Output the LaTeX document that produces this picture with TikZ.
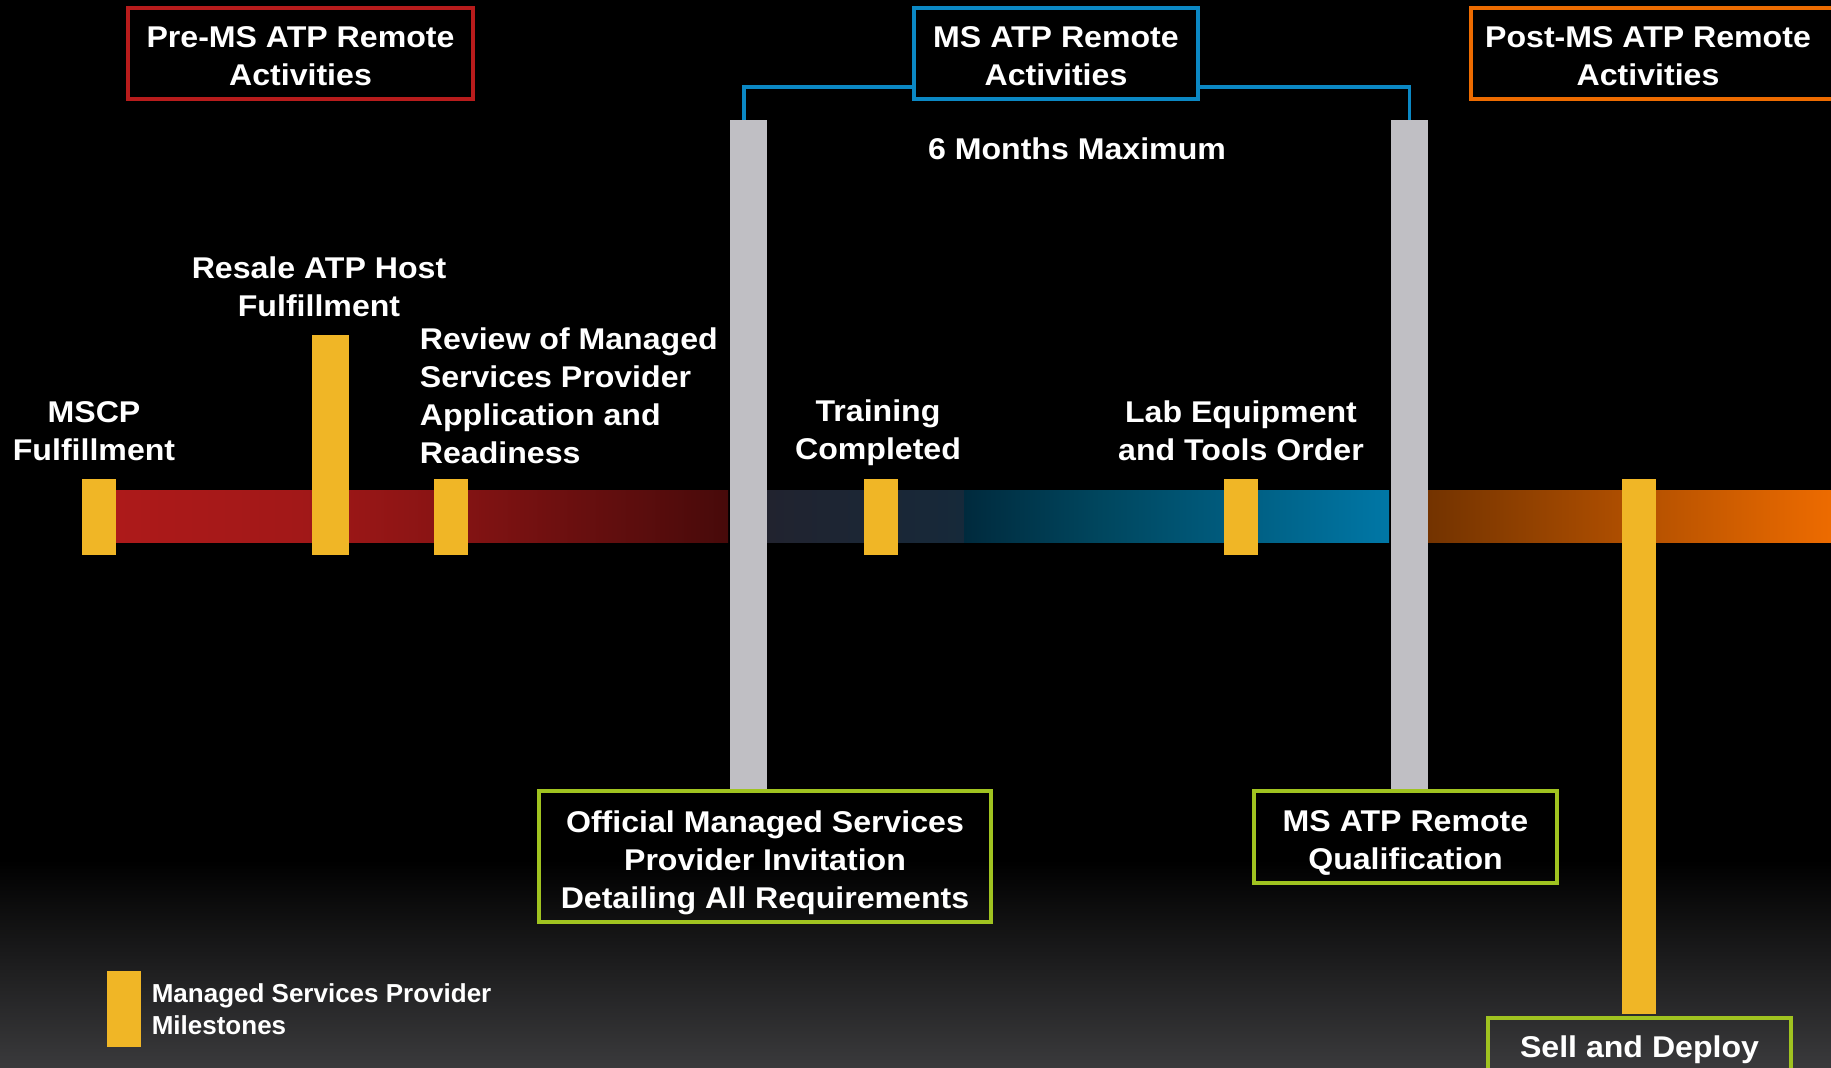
\documentclass[tikz,border=0pt]{standalone}
\usepackage{fontspec}
\setmainfont{Liberation Sans}[FakeStretch=1.07]
\newfontfamily\legendfont{Liberation Sans}
\usetikzlibrary{positioning}

\definecolor{msyellow}{RGB}{240,182,38}
\definecolor{gategray}{RGB}{192,191,196}
\definecolor{prered}{RGB}{184,28,28}
\definecolor{msblue}{RGB}{11,136,196}
\definecolor{postorange}{RGB}{237,107,0}
\definecolor{okgreen}{RGB}{160,195,32}
\definecolor{bgbottom}{RGB}{58,58,60}
% band colours
\definecolor{redA}{RGB}{174,26,26}
\definecolor{redB}{RGB}{162,24,24}
\definecolor{redC}{RGB}{138,20,20}
\definecolor{redD}{RGB}{71,10,10}
\definecolor{blueA}{RGB}{33,35,47}
\definecolor{blueB}{RGB}{22,41,58}
\definecolor{blueC}{RGB}{0,42,61}
\definecolor{blueD}{RGB}{0,70,94}
\definecolor{blueE}{RGB}{0,119,166}
\definecolor{orangeA}{RGB}{115,51,0}
\definecolor{orangeB}{RGB}{237,107,0}

\tikzset{
  slidetext/.style={text=white, inner sep=0pt, font=\bfseries\fontsize{15pt}{19pt}\selectfont},
  mstext/.style={slidetext, align=center, yshift=-1.5pt},
  phasebox/.style={draw, line width=2pt, inner sep=0pt, minimum height=45.5pt},
  stepbox/.style={phasebox, draw=okgreen},
  marker/.style={fill=msyellow, inner sep=0pt, minimum width=17pt, minimum height=38pt, anchor=north},
  gate/.style={fill=gategray, inner sep=0pt, minimum width=18.5pt, minimum height=334.5pt, anchor=north},
  bracket/.style={draw=msblue, line width=1.6pt}
}

\begin{document}
\begin{tikzpicture}[x=0.5pt, y=-0.5pt]
\useasboundingbox (0,0) rectangle (1831,1068);
% background
\fill[black] (0,0) rectangle (1831,1068);
\shade[top color=black, bottom color=bgbottom] (0,860) rectangle (1831,1068);

% time band
\foreach \xa/\xb/\ca/\cb in {99/300/redA/redB, 300/434/redB/redC, 434/728/redC/redD,
    767/964/blueA/blueB, 964/1100/blueC/blueD, 1100/1389/blueD/blueE,
    1428/1831/orangeA/orangeB}
  \shade[left color=\ca, right color=\cb] (\xa,491) rectangle (\xb,543);

% gates
\node[gate] (gate1) at (748.5,120) {};
\node[gate] (gate2) at (1409.5,120) {};

% milestones
\node[marker] (mark1) at (99,479) {};
\node[marker, minimum width=18.5pt, minimum height=110pt] (mark2) at (330.5,335) {};
\node[marker] (mark3) at (451,479) {};
\node[marker] (mark4) at (881,479) {};
\node[marker] (mark5) at (1241,479) {};
\node[marker, minimum height=267.5pt] (mark6) at (1639,479) {};

\node[mstext] (mscp) at (94,428) {MSCP\\Fulfillment};
\node[mstext] (resale) at (319,284) {Resale ATP Host\\Fulfillment};
\node[mstext, align=left, anchor=west] (review) at (419.5,393) {Review of Managed\\Services Provider\\Application and\\Readiness};
\node[mstext] (training) at (878,430) {Training\\Completed};
\node[mstext] (labtools) at (1241,427.5) {Lab Equipment\\and Tools Order};
\node[mstext] (sixmonths) at (1077,146) {6 Months Maximum};

% phases
\node[phasebox, draw=prered, minimum width=172.5pt] (premsact) at (300.5,53.5) {};
\node[phasebox, draw=msblue, minimum width=142pt] (msact) at (1056,53.5) {};
\node[phasebox, draw=postorange, minimum width=181pt] (postmsact) at (1652,53.5) {};
\node[mstext] (premstext) at (premsact) {Pre-MS ATP Remote\\Activities};
\node[mstext] (mstext) at (msact) {MS ATP Remote\\Activities};
\node[mstext] (postmstext) at (1648,53.5) {Post-MS ATP Remote\\Activities};

\draw[bracket] ([yshift=-16.75pt]msact.west) -| ([xshift=-2.25pt]gate1.north);
\draw[bracket] ([yshift=-16.75pt]msact.east) -| (gate2.north);

% steps
\node[stepbox, minimum width=226pt, minimum height=65.5pt] (invite) at (765,856.5) {};
\node[stepbox, minimum width=151.5pt, minimum height=46pt] (qualify) at (1405.5,837) {};
\node[stepbox, minimum width=151.5pt, minimum height=50pt, anchor=north] (selldeploy) at (1639.5,1016) {};
\node[mstext] (invitetext) at (765,859.5) {Official Managed Services\\Provider Invitation\\Detailing All Requirements};
\node[mstext] (qualifytext) at (1405.5,840) {MS ATP Remote\\Qualification};
\node[mstext] (selltext) at (1639.5,1046.5) {Sell and Deploy};

% legend
\node[marker] (legendmark) at (124,971) {};
\node[text=white, align=left, inner sep=0pt, font=\legendfont\bfseries\fontsize{13pt}{16pt}\selectfont,
  right=5pt of legendmark] (legendtext) {Managed Services Provider\\Milestones};
\end{tikzpicture}
\end{document}
